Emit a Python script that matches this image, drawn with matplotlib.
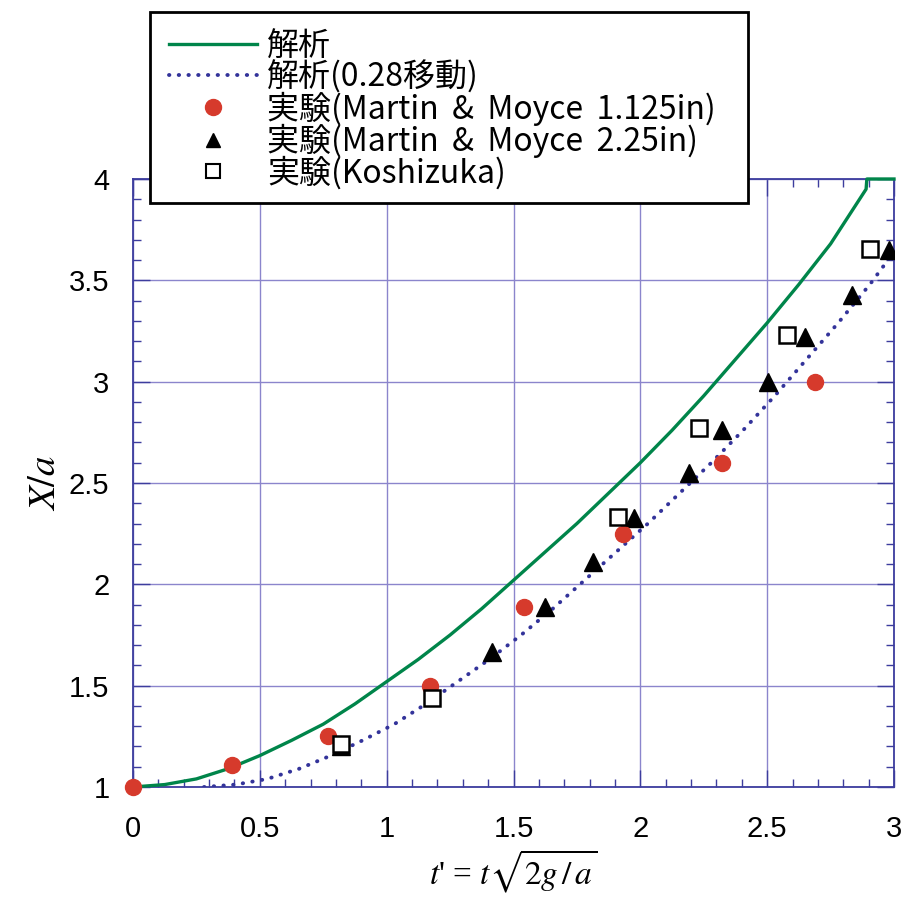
import matplotlib
matplotlib.use("Agg")
import matplotlib.pyplot as plt
from matplotlib.lines import Line2D
from matplotlib.patches import Rectangle
from matplotlib.ticker import MultipleLocator

# ---- data ----
t_analysis = [0.0, 0.125, 0.25, 0.375, 0.5, 0.625, 0.75, 0.875, 1.0, 1.125, 1.25, 1.375,
              1.5, 1.625, 1.75, 1.875, 2.0, 2.125, 2.25, 2.375, 2.5, 2.625, 2.75, 2.89,
              2.893, 3.0]
x_analysis = [1.0, 1.012, 1.04, 1.09, 1.155, 1.23, 1.31, 1.41, 1.52, 1.63, 1.75, 1.88,
              2.02, 2.16, 2.30, 2.45, 2.60, 2.76, 2.93, 3.11, 3.29, 3.48, 3.68, 3.95,
              4.0, 4.0]

t_shift = [0.28, 0.405, 0.53, 0.655, 0.78, 0.905, 1.03, 1.155, 1.28, 1.405, 1.53, 1.655,
           1.78, 1.905, 2.03, 2.155, 2.28, 2.405, 2.53, 2.655, 2.78, 2.905, 3.0]
x_shift = [1.0, 1.012, 1.04, 1.09, 1.155, 1.23, 1.31, 1.41, 1.52, 1.63, 1.75, 1.88,
           2.02, 2.16, 2.30, 2.45, 2.60, 2.76, 2.93, 3.11, 3.29, 3.48, 3.64]

t_mm1 = [0.0, 0.39, 0.77, 1.17, 1.54, 1.93, 2.32, 2.69]
x_mm1 = [1.0, 1.11, 1.25, 1.50, 1.89, 2.25, 2.60, 3.00]

t_mm2 = [0.82, 1.415, 1.625, 1.815, 1.975, 2.19, 2.32, 2.505, 2.65, 2.835, 2.98]
x_mm2 = [1.20, 1.665, 1.89, 2.11, 2.325, 2.55, 2.76, 3.00, 3.22, 3.43, 3.65]

t_kosh = [0.82, 1.18, 1.91, 2.23, 2.58, 2.905]
x_kosh = [1.21, 1.44, 2.33, 2.77, 3.23, 3.655]

labels = ["解析", "解析(0.28移動)",
          "実験(Martin\u2009 &\u2009 Moyce\u2009 1.125in)",
          "実験(Martin\u2009 &\u2009 Moyce\u2009 2.25in)",
          "実験(Koshizuka)"]

xticks = [0, 0.5, 1, 1.5, 2, 2.5, 3]
xticklabels = ["0", "0.5", "1", "1.5", "2", "2.5", "3"]
yticks = [1, 1.5, 2, 2.5, 3, 3.5, 4]
yticklabels = ["1", "1.5", "2", "2.5", "3", "3.5", "4"]

# ---- style ----
plt.rcParams['mathtext.fontset'] = 'stix'
GREEN = "#00854a"
BLUE = "#33339a"
RED = "#d63a2c"
GRID = "#8b85cc"
SPINE = "#3d3d9e"
DOTS = (0, (0.1, 2.4))

fig = plt.figure(figsize=(9.05, 9.0), dpi=100)
ax = fig.add_axes([133/905, 1-787/900, 761/905, 608/900])

ax.plot(t_analysis, x_analysis, color=GREEN, lw=2.4, zorder=3, clip_on=False)
ax.plot(t_shift, x_shift, color=BLUE, lw=2.8, linestyle=DOTS,
        dash_capstyle='round', zorder=3)
ax.plot(t_mm2, x_mm2, linestyle='none', marker='^', ms=12.5, color='black', zorder=4)
ax.plot(t_kosh, x_kosh, linestyle='none', marker='s', ms=11.5, mfc='white', mec='black',
        mew=1.8, zorder=5)
ax.plot(t_mm1, x_mm1, linestyle='none', marker='o', ms=11.5, color=RED, zorder=4,
        clip_on=False)

ax.set_xlim(0, 3)
ax.set_ylim(1, 4)
ax.set_xticks(xticks)
ax.set_xticklabels(xticklabels)
ax.set_yticks(yticks)
ax.set_yticklabels(yticklabels)
ax.xaxis.set_minor_locator(MultipleLocator(0.1))
ax.yaxis.set_minor_locator(MultipleLocator(0.1))
ax.grid(True, which='major', color=GRID, lw=1.0, zorder=1)
ax.set_axisbelow(True)
ax.tick_params(which='both', direction='in', top=True, right=True, color=SPINE,
               labelcolor='black')
ax.tick_params(which='major', length=12, width=1.0)
ax.tick_params(which='minor', length=6, width=1.0)
ax.tick_params(axis='y', which='major', pad=17)
ax.tick_params(axis='x', which='major', pad=20)
for lab in ax.get_xticklabels() + ax.get_yticklabels():
    lab.set_fontfamily('Liberation Sans')
    lab.set_fontsize(21)
for sp in ax.spines.values():
    sp.set_color(SPINE)
    sp.set_linewidth(1.3)

ax.set_ylabel(r"$X/a$", fontsize=28, labelpad=4)
ax.set_xlabel(r"$t$' = $t\sqrt{2g\,/\,a}$", fontsize=24, labelpad=4,
              fontfamily='Liberation Serif')

# legend frame (white box that overlaps the top of the axes)
fig.patches.append(Rectangle((150/905, 1-203/900), 598/905, 191/900,
                             transform=fig.transFigure, facecolor='white',
                             edgecolor='black', lw=2.0, zorder=5))

handles = [
    Line2D([], [], color=GREEN, lw=2.4),
    Line2D([], [], color=BLUE, lw=2.8, linestyle=DOTS, dash_capstyle='round'),
    Line2D([], [], linestyle='none', marker='o', ms=11.5, color=RED),
    Line2D([], [], linestyle='none', marker='^', ms=10, color='black'),
    Line2D([], [], linestyle='none', marker='s', ms=10, mfc='white', mec='black', mew=1.5),
]
leg = fig.legend(handles, labels, loc='upper left', bbox_to_anchor=(169/905, 1-30/900),
                 frameon=False, borderpad=0, borderaxespad=0, handlelength=2.75,
                 handletextpad=0.33, labelspacing=-0.06,
                 prop={'family': ['Noto Sans CJK JP', 'DejaVu Sans'], 'size': 23})
leg.set_zorder(6)

fig.savefig("out.png", dpi=100)
